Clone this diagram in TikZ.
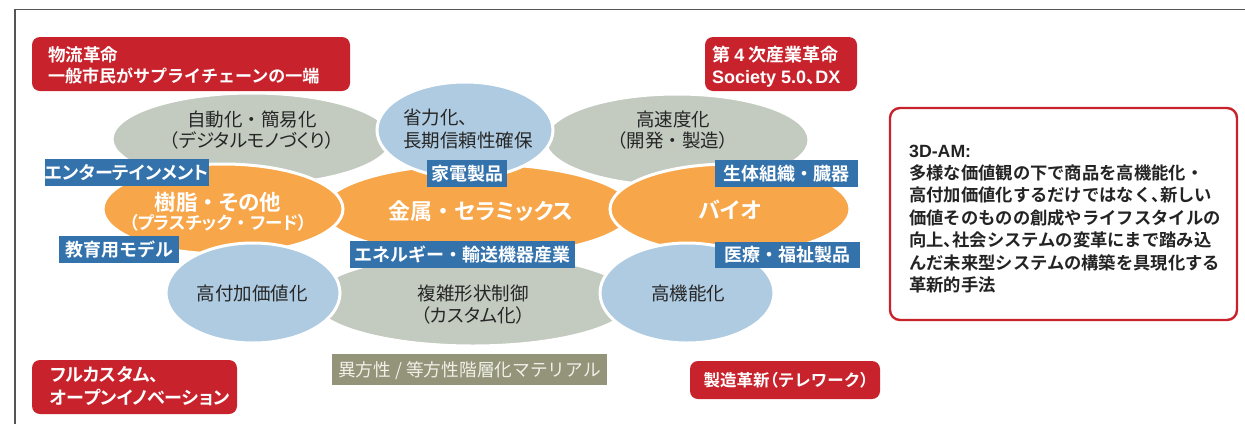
\documentclass[tikz,border=0pt]{standalone}
\usepackage{fontspec}
\setmainfont{Noto Sans CJK JP}[BoldFont={Noto Sans CJK JP Bold}]
\newfontfamily\jpp{Noto Sans CJK JP}[RawFeature=+palt, BoldFont={Noto Sans CJK JP Bold}]
\newfontfamily\lat{Liberation Sans}
\usetikzlibrary{shapes.geometric}
\definecolor{ellgray}{RGB}{195,203,192}
\definecolor{ellblue}{RGB}{174,203,225}
\definecolor{ellorange}{RGB}{247,166,74}
\definecolor{labblue}{RGB}{52,114,172}
\definecolor{redc}{RGB}{200,35,44}
\definecolor{olivebg}{RGB}{148,148,122}
\definecolor{olivetxt}{RGB}{240,240,232}
\definecolor{txtdark}{RGB}{38,38,38}
\definecolor{amdark}{RGB}{35,35,35}
\definecolor{framegray}{RGB}{85,85,85}
\newcommand\nkg{\makebox[1em][c]{・}}
\begin{document}
\begin{tikzpicture}[x=1pt,y=-1pt,
 ell/.style={ellipse, draw=white, line width=3pt, inner sep=0pt},
 gell/.style={ell, fill=ellgray},
 bell/.style={ell, fill=ellblue},
 oell/.style={ell, fill=ellorange},
 etxt/.style={anchor=base, inner sep=0pt, text=txtdark, font=\fontsize{18.5}{22}\selectfont},
 etxtp/.style={etxt, font=\jpp\fontsize{18.5}{22}\selectfont},
 otxt/.style={anchor=base, inner sep=0pt, text=white, font=\jpp\bfseries\fontsize{22}{26}\selectfont},
 lab/.style={fill=labblue, text=white, inner sep=0pt, font=\bfseries\fontsize{18}{22}\selectfont, text height=15.8pt, text depth=2.2pt},
 rbox/.style={fill=redc, rounded corners=8pt, inner sep=0pt},
 rtxt/.style={anchor=base west, inner sep=0pt, text=white, font=\bfseries\fontsize{17}{22}\selectfont},
 amtxt/.style={anchor=base west, inner sep=0pt, text=amdark, font=\bfseries\fontsize{17.3}{22}\selectfont},
]
\useasboundingbox (0,0) rectangle (1245,424);
% frame
\draw[framegray, line width=1.3pt] (15,424) -- (15,9.5) -- (1245,9.5);
% gray ellipses
\node[gell, minimum width=280pt, minimum height=92pt] (g1) at (252,139) {};
\node[gell, minimum width=264pt, minimum height=92pt] (g2) at (677,140) {};
\node[gell, minimum width=320pt, minimum height=92pt] (g3) at (473,300) {};
% orange ellipses
\node[oell, minimum width=310pt, minimum height=92pt] (o2) at (478,210) {};
\node[oell, minimum width=240pt, minimum height=90pt] (o1) at (223,209) {};
\node[oell, minimum width=240pt, minimum height=90pt] (o3) at (730,209) {};
% blue ellipses
\node[bell, minimum width=176pt, minimum height=96pt] (b1) at (465,130) {};
\node[bell, minimum width=174pt, minimum height=100pt] (b2) at (253,293) {};
\node[bell, minimum width=174pt, minimum height=100pt] (b3) at (687,293) {};
% ellipse texts
\node[etxt] (t1a) at (252,126.5) {自動化・簡易化};
\node[etxtp] (t1b) at (252,147.5) {（デジタルモノづくり）};
\node[etxt, anchor=base west] (t2a) at (403,124.5) {省力化、};
\node[etxt, anchor=base west] (t2b) at (403,147) {長期信頼性確保};
\node[etxt] (t3a) at (673,126.5) {高速度化};
\node[etxtp] (t3b) at (673,147.5) {（開発\nkg 製造）};
\node[otxt, font=\jpp\bfseries\fontsize{21.5}{26}\selectfont] (t4a) at (218,210) {樹脂\nkg その他};
\node[otxt, font=\jpp\bfseries\fontsize{17.5}{20}\selectfont] (t4b) at (218,229.5) {（プラスチック\nkg フード）};
\node[otxt] (t5) at (481,219.4) {金属\nkg セラミックス};
\node[otxt] (t6) at (730,218) {バイオ};
\node[etxt] (t7) at (252,300.5) {高付加価値化};
\node[etxt] (t8a) at (473,300.5) {複雑形状制御};
\node[etxtp] (t8b) at (473,322.5) {（カスタム化）};
\node[etxt] (t9) at (688,300.5) {高機能化};
% blue labels
\node[lab, minimum width=158pt, minimum height=27pt, font=\jpp\bfseries\fontsize{18}{22}\selectfont] (l1) at (127,172.5) {エンターテインメント};
\node[lab, minimum width=80pt, minimum height=27pt] (l2) at (467,173.5) {家電製品};
\node[lab, minimum width=143pt, minimum height=27pt] (l3) at (786.5,173.5) {生体組織・臓器};
\node[lab, minimum width=120pt, minimum height=27pt] (l4) at (119,249.5) {教育用モデル};
\node[lab, minimum width=225pt, minimum height=27pt] (l5) at (462.5,254.5) {エネルギー・輸送機器産業};
\node[lab, minimum width=145pt, minimum height=26pt] (l6) at (787.5,255) {医療・福祉製品};
% olive label
\node[fill=olivebg, text=olivetxt, inner sep=0pt, minimum width=275pt, minimum height=31pt, font=\fontsize{17.7}{20}\selectfont, text height=15.6pt, text depth=2.1pt] (ol) at (469.5,369.5) {異方性 / 等方性階層化マテリアル};
% red boxes
\node[rbox, minimum width=318pt, minimum height=54pt] (r1) at (191,64) {};
\node[rtxt, font=\bfseries\fontsize{17.5}{22}\selectfont] (r1a) at (48,61) {物流革命};
\node[rtxt] (r1b) at (48,82) {一般市民がサプライチェーンの一端};
\node[rbox, minimum width=152pt, minimum height=54pt] (r2) at (781,64) {};
\node[rtxt, font=\bfseries\fontsize{18}{22}\selectfont] (r2a) at (712,61.3) {第 {\lat 4} 次産業革命};
\node[rtxt, font=\lat\bfseries\fontsize{18}{22}\selectfont] (r2b) at (712,83.5) {Society 5.0{\jpp 、}DX};
\node[rbox, minimum width=205pt, minimum height=54pt] (r3) at (134.5,387) {};
\node[rtxt, font=\jpp\bfseries\fontsize{18}{22}\selectfont] (r3a) at (50,381) {フルカスタム、};
\node[rtxt, font=\jpp\bfseries\fontsize{18}{22}\selectfont] (r3b) at (50,404) {オープンイノベーション};
\node[rbox, minimum width=190pt, minimum height=38pt] (r4) at (785,380) {};
\node[rtxt, anchor=base, font=\bfseries\fontsize{16.5}{20}\selectfont] (r4a) at (786,386.5) {製造革新{\jpp （}テレワーク{\jpp ）}};
% 3D-AM box
\node[draw=redc, line width=2.4pt, rounded corners=10pt, minimum width=347pt, minimum height=212pt, inner sep=0pt] (am) at (1063.5,214) {};
\node[amtxt, font=\lat\bfseries\fontsize{17.7}{22}\selectfont] (am1) at (909,157) {3D-AM:};
\node[amtxt] (am2) at (909,179.4) {多様な価値観の下で商品を高機能化・};
\node[amtxt] (am3) at (909,201.8) {高付加価値化するだけではなく{\jpp 、}新しい};
\node[amtxt] (am4) at (909,224.2) {価値そのものの創成やライフスタイルの};
\node[amtxt] (am5) at (909,246.6) {向上{\jpp 、}社会システムの変革にまで踏み込};
\node[amtxt] (am6) at (909,269) {んだ未来型システムの構築を具現化する};
\node[amtxt] (am7) at (909,291.4) {革新的手法};
\end{tikzpicture}
\end{document}
